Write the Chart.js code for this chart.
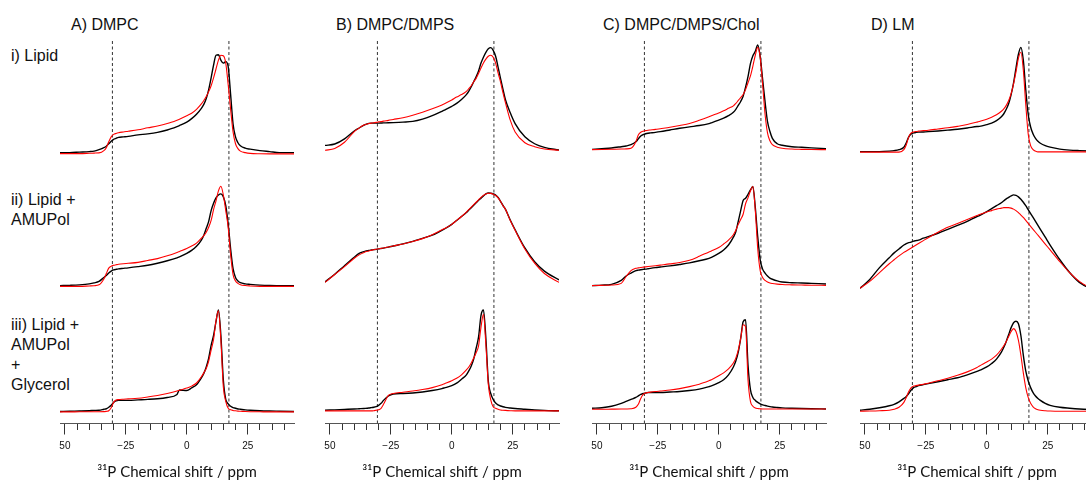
<!DOCTYPE html>
<html><head><meta charset="utf-8">
<script src="https://cdn.jsdelivr.net/npm/chart.js@4/dist/chart.umd.min.js"></script>
<style>
html,body{margin:0;padding:0;width:1086px;height:481px;overflow:hidden;background:#fff;}
#wrap{position:relative;width:1086px;height:481px;overflow:hidden;}
#wrap canvas{position:absolute;top:0;}
.lbl{position:absolute;font-family:'Liberation Sans',Arial,sans-serif;font-size:16px;line-height:20px;color:#111;white-space:nowrap;}
</style></head><body><div id="wrap"></div>
<script>
// ---- chemical shift grid (ppm) shared by every trace ----
const shiftPpm = [-52,-48,-44,-40, -38,-36,-34,-33,-32,-31,-30,-29,-28, -26,-24,-20,-16,-12,-8,-4,-3,
  0,2,4,6,7,8,9,10,11,12,13,14,15,16,17,18,19,20,21,22, 24,26,30,34,38,44];

// ---- A) DMPC ----
const dmpcLipidExp = [15.5,15.5,16,16.5, 17,18.5,20.5,22,24.5,27,29,30,31, 31.5,32,33.5,34.5,36,38.5,42,43,
  46.5,50,54.5,60.5,64.5,70.5,79.5,91.5,104.5,114.5,115,109.5,106.5,108,103,74.5,44.5,31.5,25.5,22.5, 20,19,17.5,16.5,15.5,15.5];
const dmpcLipidFit = [14.5,14.5,14.5,14.8, 15,15.2,17.5,20.5,26.5,31.5,34,35,35.7, 36.5,37.2,38.7,40.7,42.5,45,48.5,49.5,
  53,55.5,59.5,65,68.5,72.5,77.5,83.5,91.5,100.5,109.5,114.5,114,106.5,84.5,59.5,36.5,24.5,19.5,17, 15.5,14.7,14.3,14.2,14.2,14.2];
const dmpcAmupolExp = [10.2,10.5,11,12, 13,14.5,18.5,20.5,23,25,26.2,26.8,27.3, 27.8,28.3,29.5,30.9,33,35.5,38.5,39.5,
  43,46,50.2,56.5,61.5,68.5,75.5,86.5,94,99.5,102.3,103.5,100.5,91.5,72.8,47.5,27.5,18.5,15,13.2, 12,11.5,10.7,10.3,10.2,10.1];
const dmpcAmupolFit = [9.5,9.5,9.5,9.9, 10.1,11,17,22.5,28,30,30.9,31.4,31.9, 32.5,32.9,33.9,35.8,37.7,40.5,44,45,
  48,50.5,53.5,58.5,61,64.5,69.5,76.5,87.5,96.5,106.5,111.2,102.5,86.5,69.5,41.5,21.5,15,12.5,11.2, 10.3,9.9,9.5,9.5,9.5,9.5];
const dmpcGlycerolExp = [12.2,12.5,12.7,13, 13.3,13.5,14.5,15,16.5,18.5,21.5,23,23.5, 23.5,23.5,24,24.5,25.2,26.5,29.5,34,
  33.6,36.2,39.5,46.5,51,57.5,66.5,79.5,89.5,103.5,115.5,89.5,44.5,24.5,20,17.5,16.2,15.5,14.8,14.5, 13.9,13.5,13,12.7,12.5,12.2];
const dmpcGlycerolFit = [11.8,11.8,11.9,11.9, 12,12,12.1,12.3,13,16,21.5,23.8,24.3, 24.7,25,25.7,27,28.5,30.5,33,33.8,
  36,38,41.2,47.5,51.5,56,63.5,74.5,85.5,104.5,114.5,84.5,37.5,22.5,15.5,14,13.3,12.9,12.6,12.5, 12.2,12,11.9,11.8,11.8,11.8];

// ---- B) DMPC/DMPS ----
const dmpsLipidExp = [22.8,24.2,29.5,37.5, 40.5,43.5,45.2,45.5,45.5,45.5,45.5,45.6,45.7, 45.8,46,46.5,47.2,49.5,53,57.5,58.7,
  62.5,65.5,69.5,74.5,78,82.5,87.5,92.5,98.5,106.5,112.5,117.5,121,122.2,119.5,113.5,102.5,91,80,69.5, 56,45,31.5,24.5,20.8,18.1];
const dmpsLipidFit = [17.8,19.7,26,36.8, 40.5,43.5,45,45.5,45.8,46.2,46.7,47,47.5, 48.3,49.2,51,53.5,56.5,60,64,65.2,
  69,72,74.5,77.8,80.5,83.5,87.5,91,96,101.5,106.5,110.5,113.5,114.5,112.5,106.5,96.5,87.5,76.5,66.5, 48.5,36.5,25.5,21.5,19.2,17.9];
const dmpsAmupolExp = [14,21.8,30.5,39, 43,44.8,46,46.4,46.8,47.1,47.6,48,48.4, 49.4,50.5,52.6,55.2,58.3,61.5,66.5,67.8,
  72.5,76.5,80.5,84.5,87,89.5,92,94.5,97,99.2,101.5,103.5,104.5,104.2,103.5,102.3,100,96,91.8,88, 77,67,48.5,34.5,25,16];
const dmpsAmupolFit = [13.5,21.5,29.5,38, 41.5,44,45.5,46.2,46.7,47.2,47.7,48.1,48.5, 49.5,50.5,52.5,55,58,62,67,68.2,
  72.5,76.5,80.5,85,87.5,90,92.5,95,97.5,100,102,103.5,104.2,104,103.2,101.8,99.5,96,91.5,88, 76.5,66.5,47.5,33,22.5,13.5];
const dmpsGlycerolExp = [13.5,13.9,14.3,14.7, 15,15.3,15.7,16.1,16.5,17.2,18.5,20.5,23.5, 28,30,30.5,31,32,33.5,35.5,36.2,
  38.5,41,45,49.5,53.5,58.5,65.5,76.5,88,110,115.5,86.5,43,30.5,24.5,20.8,19,17.8,17,16.4, 15.7,15.2,14.5,13.8,13.3,12.9];
const dmpsGlycerolFit = [12.8,12.8,12.8,12.8, 12.8,12.8,12.8,12.8,13,13.5,14,15.5,19.5, 28.5,30.5,31.8,33,34.5,36.5,39.5,40.5,
  43.5,46,49.5,54.5,57.5,61.5,66.5,72,79,98,111,80,40,24,17,15.5,14.5,13.8,13.5,13.3, 13,12.8,12.8,12.8,12.8,12.8];

// ---- C) DMPC/DMPS/Chol ----
const cholLipidExp = [18.8,19.5,20.2,21.5, 22.2,23.5,26.5,29.5,32.3,33.8,34.7,35.2,35.5, 36.1,36.8,38.5,40.2,41.7,43,45,45.8,
  48.5,50.5,53,56.5,59.5,63.5,67.5,72.8,82,92.8,106,114,118.5,125,113,90,67,47,37,30, 24.5,23,21.5,20.9,20.3,19.5];
const cholLipidFit = [18.5,18.7,18.9,19.1, 19.3,19.9,26.5,33.5,36.2,37.3,37.8,38.2,38.5, 39.1,39.8,41.2,43,45,48.3,52,53,
  55.7,58,60.5,63,65.5,68.5,71.5,74.5,79.5,86.5,93.5,103.5,114.5,122.5,112.5,84.5,54.5,35.5,27.5,23.5, 21,19.9,19.1,18.8,18.6,18.5];
const cholAmupolExp = [10.2,10.7,11.5,15.5, 20,23,25.5,26,26.4,26.7,27,27.4,27.8, 28.5,29.1,30.3,31.7,33.3,35.5,38,39,
  43,46.5,51.5,59.5,65,75.5,86.5,96.8,99,103,107.5,111,89.5,59.5,36.5,27,23,20,17.8,16.7, 15,13.9,13.2,12.9,12.5,11.9];
const cholAmupolFit = [10.2,10.5,10.8,12.5, 19.5,25.5,27.8,28.3,28.7,29,29.3,29.6,29.9, 30.5,31.1,32.3,33.7,36,40,44.5,45.5,
  49,52.5,56.5,62,66.5,72.5,77.5,82.8,93.5,99.5,106.5,111,86.5,47.5,25.5,18.5,15.5,13.8,12.8,12.3, 11.7,11.3,11,10.8,10.6,10.5];
const cholGlycerolExp = [15.5,16,17.5,20.5, 22.5,24.5,26.5,28,29.5,30.5,31,31.5,31.5, 31.5,31.5,32,32.5,33.5,35,37.5,38.2,
  41.5,44.5,49.5,57.5,63.5,72.5,86.5,103.5,105.5,59.5,34.5,26.5,23.5,21.5,20,19,18.3,17.7,17.2,16.8, 16.3,15.9,15.5,15.2,15,14.8];
const cholGlycerolFit = [14.5,14.5,14.6,14.7, 14.8,15,16.5,19.5,25.5,29.5,31,31.5,31.9, 32.5,33,34,35.5,37.5,40,43.5,44.5,
  48.5,51.5,55.5,61.5,66.5,74.5,86.5,100.5,98.5,44.5,22.5,17.5,15.8,15.2,14.9,14.7,14.7,14.7,14.7,14.7, 14.7,14.7,14.7,14.7,14.7,14.7];

// ---- D) LM ----
const lmLipidExp = [16.5,16.5,16.5,17, 17.5,18.5,21,25.5,31.5,34.5,35.5,36,36.3, 36.5,36.8,37.5,38.3,39.2,40.5,42,42.2,
  44,45.5,48,52,55,59.5,65.5,74.5,86.5,101.5,115.5,122.5,109.5,79.5,54.5,41.5,34.5,30,27,25, 22.5,21,19,18,17.5,17];
const lmLipidFit = [16,16,16,16, 16,16,18.5,23.5,31.5,35.5,36.5,37,37.3, 37.8,38.3,39.5,40.7,42.2,44,46.5,47.2,
  49.5,51.5,54,57.5,60,63.5,68.5,75.5,85.5,97.5,111.5,117.5,99.5,64.5,34.5,22.5,18.5,17,16.2,16.2, 16.2,16.2,16.2,16.2,16.2,16.2];
const lmAmupolExp = [7.5,16.5,28.5,38.5, 43.5,47.5,51.5,53,54,54.5,55.5,56,56.5, 58.5,60,63.5,67.5,71.5,75.5,80.5,81.5,
  85.5,88.5,91.5,94.5,96.5,98.5,100,101.5,102.5,102,100.5,98,95,91.5,87.5,83.5,79.5,75.5,71.5,67.5, 59.5,51.5,36.5,23.5,13.5,5.5];
const lmAmupolFit = [7.5,14.5,23.5,32.5, 36.5,40.5,44,45.5,47,48.5,50,51.5,53, 56,59,64.5,69.5,73.5,77.5,81.5,82.5,
  85,86.5,88,89,89.5,89.5,89.5,89,88,86.5,84.5,82,79.5,76.5,73.5,70.5,67.5,64.5,61.5,58.5, 52.5,46.5,34.5,23.5,14.5,5.5];
const lmGlycerolExp = [13.5,14.5,16,18, 19.5,22,25.5,27.5,30.5,34,36.5,37.5,38.5, 39.5,40.5,42.5,44.5,46.5,49.5,53,54,
  57.5,61,65.5,72.5,77.5,83.5,90.5,97.5,102.5,104,101.5,89.5,69.5,53.5,43.5,36.5,31.5,28,25.5,23.5, 20.5,18.5,16.5,15.5,14.7,14];
const lmGlycerolFit = [12.5,12.7,13,13.5, 14.5,16.5,21.5,26.5,32.5,36.5,38,38.5,39, 40,41,43.5,46,49,52.5,57,58.5,
  62.5,65.5,69.5,75.5,79,83.5,88.5,93.5,96.5,93.5,84.5,69.5,51.5,36.5,26.5,20.5,17,15,14,13.5, 13,12.7,12.5,12.5,12.5,12.5];

// ---- text & axis labels ----
const panelTitles = ['A) DMPC', 'B) DMPC/DMPS', 'C) DMPC/DMPS/Chol', 'D) LM'];
const rowLabels = [['i) Lipid'], ['ii) Lipid +', 'AMUPol'], ['iii) Lipid +', 'AMUPol', '+', 'Glycerol']];
const tickValues = [-50, -25, 0, 25];
const tickLabels = ['50', '\u221225', '0', '25'];
const axisTitle = '\u00B3\u00B9P Chemical shift / ppm';
const refShifts = [-30.5, 17.3];
const shiftRange = [-52, 44];
const intensityRange = [0, 130];

const panels = [
  [[dmpcLipidExp, dmpcLipidFit], [dmpcAmupolExp, dmpcAmupolFit], [dmpcGlycerolExp, dmpcGlycerolFit]],
  [[dmpsLipidExp, dmpsLipidFit], [dmpsAmupolExp, dmpsAmupolFit], [dmpsGlycerolExp, dmpsGlycerolFit]],
  [[cholLipidExp, cholLipidFit], [cholAmupolExp, cholAmupolFit], [cholGlycerolExp, cholGlycerolFit]],
  [[lmLipidExp, lmLipidFit], [lmAmupolExp, lmAmupolFit], [lmGlycerolExp, lmGlycerolFit]]
];

// ---- layout ----
const wrap = document.getElementById('wrap');
const panelLeft = [40, 305, 572, 840];
const canvasW = 274, canvasH = 481;
const rowLabelTops = [45.5, 189.5, 314.5];

function addLabel(text, left, top) {
  const d = document.createElement('div');
  d.className = 'lbl';
  d.style.left = left + 'px';
  d.style.top = top + 'px';
  d.innerHTML = text;
  wrap.appendChild(d);
}
rowLabels.forEach((lines, r) => addLabel(lines.join('<br>'), 11, rowLabelTops[r]));
panelTitles.forEach((t, p) => addLabel(t, panelLeft[p] + 31, 14.5));

const toPts = vals => shiftPpm.map((x, i) => ({x: x, y: vals[i]}));

panels.forEach((rows, p) => {
  const canvas = document.createElement('canvas');
  canvas.width = canvasW; canvas.height = canvasH;
  canvas.style.left = panelLeft[p] + 'px';
  canvas.style.width = canvasW + 'px'; canvas.style.height = canvasH + 'px';
  wrap.appendChild(canvas);

  const datasets = [];
  refShifts.forEach(s => datasets.push({
    data: [{x: s, y: 0}, {x: s, y: 1}], yAxisID: 'yFull',
    borderColor: '#333', borderWidth: 1, borderDash: [3, 2.5], pointRadius: 0, order: 3
  }));
  const scales = {
    x: {
      type: 'linear', position: 'bottom', min: shiftRange[0], max: shiftRange[1],
      ticks: {
        stepSize: 5, autoSkip: false, includeBounds: false, maxRotation: 0, padding: 6,
        color: '#111', font: {family: "'Liberation Sans', Arial, sans-serif", size: 10},
        callback: v => { const i = tickValues.indexOf(v); return i < 0 ? '' : tickLabels[i]; }
      },
      grid: {
        drawOnChartArea: false, tickLength: 11, tickColor: '#333', tickWidth: 1,
        tickBorderDash: c => (c.tick && tickValues.includes(c.tick.value)) ? [] : [6, 20]
      },
      border: {display: true, color: '#555', width: 1},
      title: {display: true, text: axisTitle, color: '#111',
        font: {family: 'Lato, sans-serif', size: 15}, padding: {top: 4.5, bottom: 0}}
    },
    yFull: {display: false, min: 0, max: 1, position: 'left'}
  };
  // left-positioned stacked axes are laid out in reverse order, so add the bottom row first
  for (let r = rows.length - 1; r >= 0; r--) {
    scales['y' + r] = {display: false, position: 'left', stack: 'rows', stackWeight: 1,
      min: intensityRange[0], max: intensityRange[1]};
  }
  rows.forEach((pair, r) => {
    const id = 'y' + r;
    datasets.push({data: toPts(pair[0]), yAxisID: id, borderColor: '#000', borderWidth: 1.4,
      pointRadius: 0, cubicInterpolationMode: 'monotone', order: 2});
    datasets.push({data: toPts(pair[1]), yAxisID: id, borderColor: '#ff0000', borderWidth: 1.1,
      pointRadius: 0, cubicInterpolationMode: 'monotone', order: 1});
  });

  new Chart(canvas, {
    type: 'line',
    data: {datasets: datasets},
    options: {
      responsive: false, animation: false, devicePixelRatio: 1, events: [],
      layout: {padding: {left: 20, right: 20, top: 40, bottom: 0}},
      plugins: {legend: {display: false}, tooltip: {enabled: false}},
      scales: scales
    }
  });
});
</script></body></html>
